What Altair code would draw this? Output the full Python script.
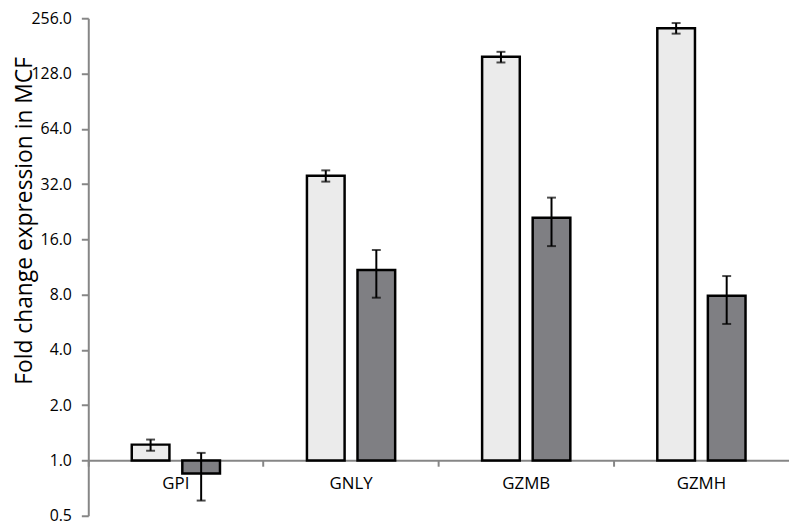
import altair as alt
import pandas as pd

genes = ["GPI", "GNLY", "GZMB", "GZMH"]
series = ["A", "B"]
light = [1.22, 35.5, 158.0, 226.0]
light_lo = [1.13, 33.0, 147.0, 211.0]
light_hi = [1.30, 38.0, 168.0, 241.0]
dark = [0.85, 10.9, 21.0, 7.9]
dark_lo = [0.605, 7.7, 14.7, 5.54]
dark_hi = [1.10, 14.0, 27.0, 10.1]
y_ticks = [0.5, 1, 2, 4, 8, 16, 32, 64, 128, 256]

rows = []
for i, g in enumerate(genes):
    rows.append({"gene": g, "series": "A", "value": light[i], "lo": light_lo[i], "hi": light_hi[i], "base": 1.0})
    rows.append({"gene": g, "series": "B", "value": dark[i], "lo": dark_lo[i], "hi": dark_hi[i], "base": 1.0})
df = pd.DataFrame(rows)

FONT = "Open Sans"
AXIS_GRAY = "#868686"

x_scale = alt.Scale(domain=genes, paddingInner=0, paddingOuter=0)
xo_scale = alt.Scale(domain=series, paddingInner=0.255, paddingOuter=0.86)
y_scale = alt.Scale(type="log", base=2, domain=[0.5, 256], nice=False)

color_scale = alt.Scale(domain=series, range=["#ebebeb", "#7f7f83"])

x_label_axis = alt.Axis(
    orient="bottom", title=None, labelAngle=0, ticks=False, tickSize=0, domain=False,
    labelPadding=15, offset=-56, labelFont=FONT, labelFontSize=17, labelColor="#000000",
)
x_tick_axis = alt.Axis(
    orient="bottom", title=None, labels=False, ticks=True, tickSize=6, tickWidth=2,
    tickColor=AXIS_GRAY, bandPosition=0, domain=True, domainColor=AXIS_GRAY,
    domainWidth=2, offset=-56,
)
y_axis = alt.Axis(
    values=y_ticks, format=".1f", title="Fold change expression in MCF",
    grid=False, domainColor=AXIS_GRAY, domainWidth=2, tickColor=AXIS_GRAY, tickWidth=2,
    tickSize=7, labelPadding=10, labelFont=FONT, labelFontSize=16, labelColor="#000000",
    titleFont=FONT, titleFontSize=23, titleFontWeight="normal", titleColor="#000000",
    titleX=-57, titleY=204, titleAlign="center", titleBaseline="alphabetic", titleAngle=-90,
)

base = alt.Chart(df)

bars = base.mark_bar(stroke="#000000", strokeWidth=2.5).encode(
    x=alt.X("gene:N", scale=x_scale, sort=genes, axis=x_label_axis),
    xOffset=alt.XOffset("series:N", scale=xo_scale, sort=series),
    y=alt.Y("value:Q", scale=y_scale, axis=y_axis),
    y2="base:Q",
    fill=alt.Fill("series:N", scale=color_scale, legend=None),
)

err = base.mark_rule(color="#000000", strokeWidth=2).encode(
    x=alt.X("gene:N", scale=x_scale, sort=genes, axis=x_tick_axis),
    xOffset=alt.XOffset("series:N", scale=xo_scale, sort=series),
    y=alt.Y("lo:Q", scale=y_scale),
    y2="hi:Q",
)

cap_lo = base.mark_tick(color="#000000", thickness=2, size=9).encode(
    x=alt.X("gene:N", scale=x_scale, sort=genes, axis=None),
    xOffset=alt.XOffset("series:N", scale=xo_scale, sort=series),
    y=alt.Y("lo:Q", scale=y_scale),
)
cap_hi = base.mark_tick(color="#000000", thickness=2, size=9).encode(
    x=alt.X("gene:N", scale=x_scale, sort=genes, axis=None),
    xOffset=alt.XOffset("series:N", scale=xo_scale, sort=series),
    y=alt.Y("hi:Q", scale=y_scale),
)

chart = alt.layer(bars, err, cap_lo, cap_hi).resolve_axis(x="independent").properties(
    width=707,
    height=502,
    autosize=alt.AutoSizeParams(type="none"),
    padding={"left": 81, "top": 8, "right": 0, "bottom": 8},
).configure_view(stroke=None).configure_axis(labelFont=FONT)

chart.save("out.html", embed_options={"renderer": "svg", "actions": False})
